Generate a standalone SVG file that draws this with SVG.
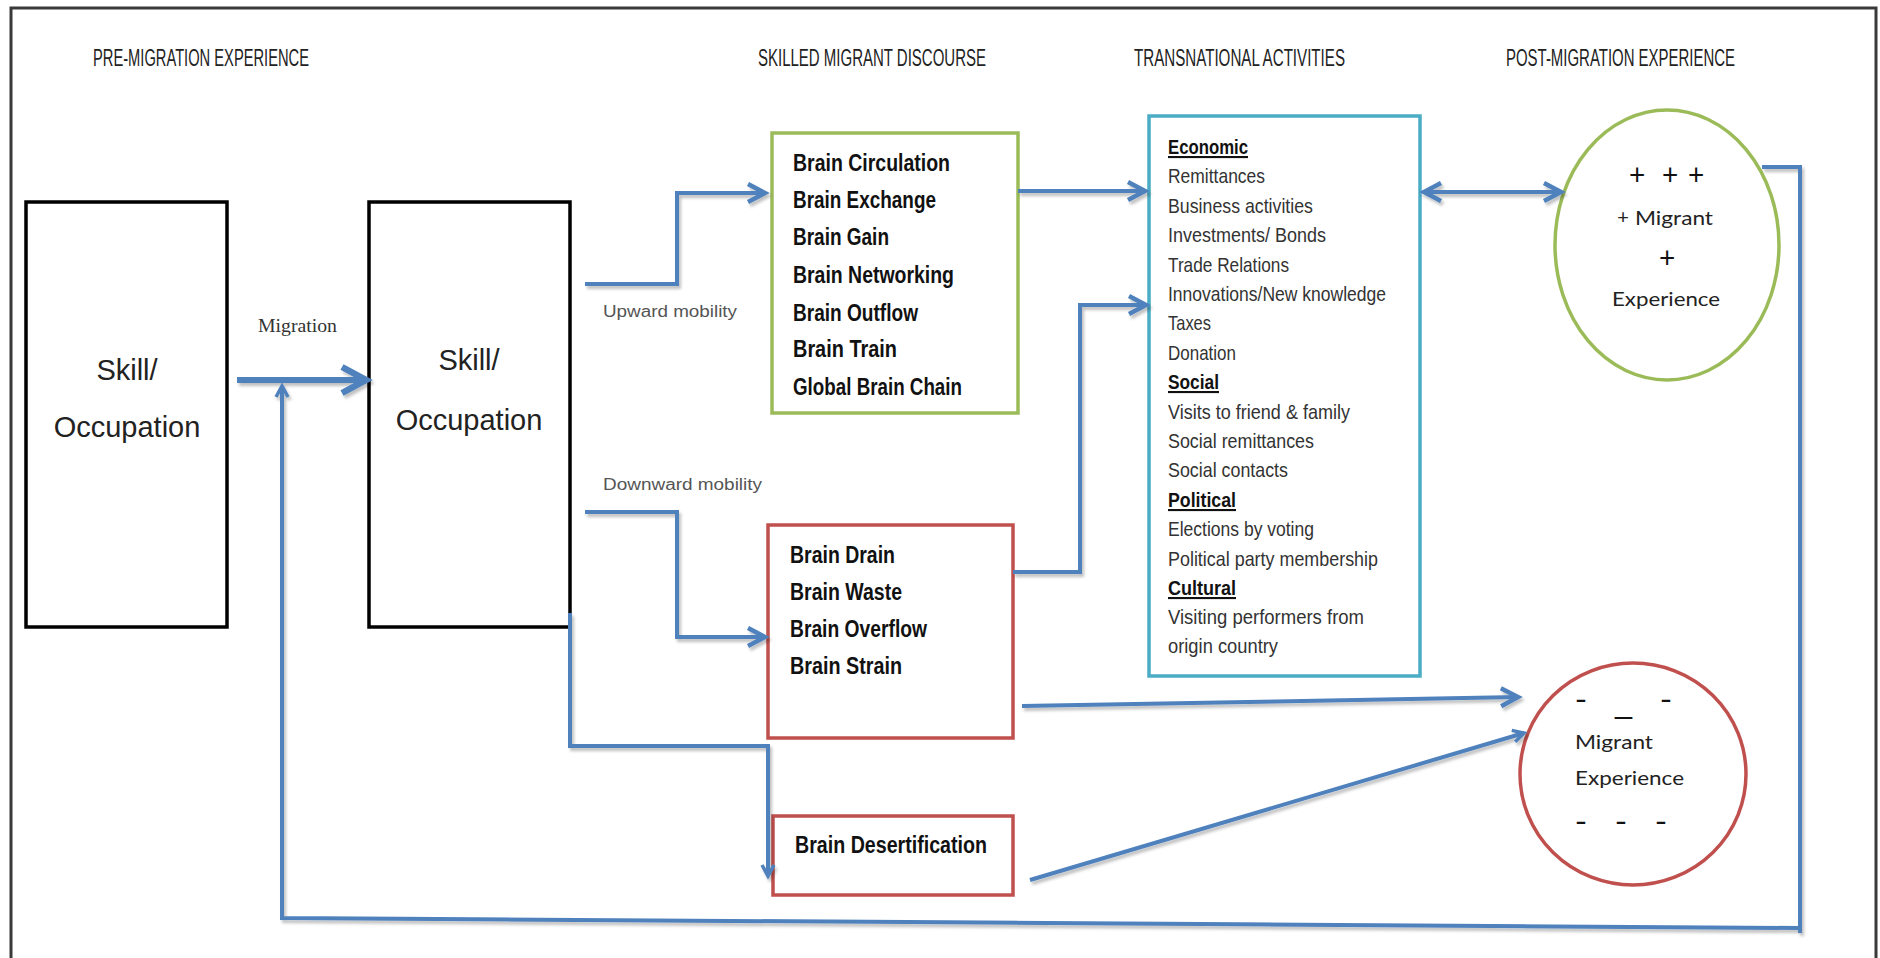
<svg xmlns="http://www.w3.org/2000/svg" width="1880" height="958" viewBox="0 0 1880 958">
<defs>
<filter id="sh" x="-5%" y="-5%" width="110%" height="110%">
<feDropShadow dx="2" dy="3" stdDeviation="1.5" flood-color="#000" flood-opacity="0.25"/>
</filter>
<marker id="arr" markerUnits="userSpaceOnUse" markerWidth="28" markerHeight="28" refX="21" refY="12" orient="auto-start-reverse">
<path d="M4,3 L21,12 L4,21" fill="none" stroke="#4F81BD" stroke-width="4.5" stroke-linejoin="miter"/>
</marker>
<marker id="arrBig" markerUnits="userSpaceOnUse" markerWidth="36" markerHeight="36" refX="29" refY="16" orient="auto">
<path d="M5,3 L29,16 L5,29" fill="none" stroke="#4F81BD" stroke-width="6.5"/>
</marker>
<marker id="arrSmall" markerUnits="userSpaceOnUse" markerWidth="20" markerHeight="20" refX="14" refY="8" orient="auto">
<path d="M3,2 L14,8 L3,14" fill="none" stroke="#4F81BD" stroke-width="3.5"/>
</marker>
</defs>
<style>
.hdr{font-family:"Liberation Sans",Arial,sans-serif;font-size:23px;fill:#222;}
.big{font-family:"Liberation Sans",Arial,sans-serif;font-size:29px;fill:#222;text-anchor:middle;}
.brain{font-family:"Liberation Sans",Arial,sans-serif;font-size:23px;font-weight:bold;fill:#111;}
.ta{font-family:"Liberation Sans",Arial,sans-serif;font-size:21px;fill:#333;}
.tah{font-family:"Liberation Sans",Arial,sans-serif;font-size:21px;font-weight:bold;fill:#111;text-decoration:underline;}
.lbl{font-family:"Liberation Sans",Arial,sans-serif;font-size:16px;fill:#555;}
.ell{font-family:Lato,"Open Sans",sans-serif;font-size:20px;fill:#222;}
.dash{font-family:Lato,"Open Sans",sans-serif;font-size:24px;font-weight:bold;fill:#111;}
.plus{font-family:Lato,"Open Sans",sans-serif;font-size:28px;fill:#111;text-anchor:middle;}
.conn{fill:none;stroke:#4F81BD;stroke-width:4;}
</style>
<rect width="1880" height="958" fill="#fff"/>
<path d="M11,962 V8 H1876 V962" fill="none" stroke="#3a3a3a" stroke-width="3"/>

<g id="headers">
<text class="hdr" x="93" y="66" textLength="216" lengthAdjust="spacingAndGlyphs">PRE-MIGRATION EXPERIENCE</text>
<text class="hdr" x="758" y="66" textLength="228" lengthAdjust="spacingAndGlyphs">SKILLED MIGRANT DISCOURSE</text>
<text class="hdr" x="1134" y="66" textLength="211" lengthAdjust="spacingAndGlyphs">TRANSNATIONAL ACTIVITIES</text>
<text class="hdr" x="1506" y="66" textLength="229" lengthAdjust="spacingAndGlyphs">POST-MIGRATION EXPERIENCE</text>
</g>

<g id="pre-skill">
<rect x="26" y="202" width="201" height="425" fill="#fff" stroke="#000" stroke-width="3.5"/>
<text class="big" x="127" y="380">Skill/</text>
<text class="big" x="127" y="437">Occupation</text>
</g>

<g id="post-skill">
<rect x="369" y="202" width="201" height="425" fill="#fff" stroke="#000" stroke-width="3.5"/>
<text class="big" x="469" y="370">Skill/</text>
<text class="big" x="469" y="430">Occupation</text>
</g>

<g id="upward-discourse">
<rect x="772" y="133" width="246" height="280" fill="#fff" stroke="#9BBB59" stroke-width="3.5"/>
<text class="brain" x="793" y="171" textLength="157" lengthAdjust="spacingAndGlyphs">Brain Circulation</text>
<text class="brain" x="793" y="208" textLength="143" lengthAdjust="spacingAndGlyphs">Brain Exchange</text>
<text class="brain" x="793" y="245" textLength="96" lengthAdjust="spacingAndGlyphs">Brain Gain</text>
<text class="brain" x="793" y="283" textLength="161" lengthAdjust="spacingAndGlyphs">Brain Networking</text>
<text class="brain" x="793" y="321" textLength="125" lengthAdjust="spacingAndGlyphs">Brain Outflow</text>
<text class="brain" x="793" y="357" textLength="104" lengthAdjust="spacingAndGlyphs">Brain Train</text>
<text class="brain" x="793" y="395" textLength="169" lengthAdjust="spacingAndGlyphs">Global Brain Chain</text>
</g>

<g id="downward-discourse">
<rect x="768" y="525" width="245" height="213" fill="#fff" stroke="#C0504D" stroke-width="3.5"/>
<text class="brain" x="790" y="563" textLength="105" lengthAdjust="spacingAndGlyphs">Brain Drain</text>
<text class="brain" x="790" y="600" textLength="112" lengthAdjust="spacingAndGlyphs">Brain Waste</text>
<text class="brain" x="790" y="637" textLength="137" lengthAdjust="spacingAndGlyphs">Brain Overflow</text>
<text class="brain" x="790" y="674" textLength="112" lengthAdjust="spacingAndGlyphs">Brain Strain</text>
</g>

<g id="desertification">
<rect x="773" y="816" width="240" height="79" fill="#fff" stroke="#C0504D" stroke-width="3.5"/>
<text class="brain" x="795" y="853" textLength="192" lengthAdjust="spacingAndGlyphs">Brain Desertification</text>
</g>

<g id="transnational">
<rect x="1149" y="116" width="271" height="560" fill="#fff" stroke="#4BACC6" stroke-width="3.5"/>
<text class="tah" x="1168" y="154" textLength="80" lengthAdjust="spacingAndGlyphs">Economic</text>
<text class="ta" x="1168" y="183" textLength="97" lengthAdjust="spacingAndGlyphs">Remittances</text>
<text class="ta" x="1168" y="213" textLength="145" lengthAdjust="spacingAndGlyphs">Business activities</text>
<text class="ta" x="1168" y="242" textLength="158" lengthAdjust="spacingAndGlyphs">Investments/ Bonds</text>
<text class="ta" x="1168" y="272" textLength="121" lengthAdjust="spacingAndGlyphs">Trade Relations</text>
<text class="ta" x="1168" y="301" textLength="218" lengthAdjust="spacingAndGlyphs">Innovations/New knowledge</text>
<text class="ta" x="1168" y="330" textLength="43" lengthAdjust="spacingAndGlyphs">Taxes</text>
<text class="ta" x="1168" y="360" textLength="68" lengthAdjust="spacingAndGlyphs">Donation</text>
<text class="tah" x="1168" y="389" textLength="51" lengthAdjust="spacingAndGlyphs">Social</text>
<text class="ta" x="1168" y="419" textLength="182" lengthAdjust="spacingAndGlyphs">Visits to friend &amp; family</text>
<text class="ta" x="1168" y="448" textLength="146" lengthAdjust="spacingAndGlyphs">Social remittances</text>
<text class="ta" x="1168" y="477" textLength="120" lengthAdjust="spacingAndGlyphs">Social contacts</text>
<text class="tah" x="1168" y="507" textLength="68" lengthAdjust="spacingAndGlyphs">Political</text>
<text class="ta" x="1168" y="536" textLength="146" lengthAdjust="spacingAndGlyphs">Elections by voting</text>
<text class="ta" x="1168" y="566" textLength="210" lengthAdjust="spacingAndGlyphs">Political party membership</text>
<text class="tah" x="1168" y="595" textLength="68" lengthAdjust="spacingAndGlyphs">Cultural</text>
<text class="ta" x="1168" y="624" textLength="196" lengthAdjust="spacingAndGlyphs">Visiting performers from</text>
<text class="ta" x="1168" y="653" textLength="110" lengthAdjust="spacingAndGlyphs">origin country</text>
</g>

<g id="positive-experience">
<ellipse cx="1667" cy="245" rx="112" ry="135" fill="#fff" stroke="#9BBB59" stroke-width="3.5"/>
<text class="plus" x="1637" y="185">+</text>
<text class="plus" x="1670" y="185">+</text>
<text class="plus" x="1696" y="185">+</text>
<text class="ell" x="1623" y="224" font-size="15" text-anchor="middle">+</text>
<text class="ell" x="1635" y="225" textLength="78" lengthAdjust="spacingAndGlyphs">Migrant</text>
<text class="plus" x="1667" y="268">+</text>
<text class="ell" x="1612" y="306" textLength="108" lengthAdjust="spacingAndGlyphs">Experience</text>
</g>

<g id="negative-experience">
<ellipse cx="1633" cy="774" rx="113" ry="111" fill="#fff" stroke="#C0504D" stroke-width="3.5"/>
<text class="dash" x="1575" y="708" textLength="12" lengthAdjust="spacingAndGlyphs">–</text>
<text class="dash" x="1660" y="708" textLength="12" lengthAdjust="spacingAndGlyphs">–</text>
<text class="dash" x="1613" y="715" textLength="21" lengthAdjust="spacingAndGlyphs">_</text>
<text class="ell" x="1575" y="749" textLength="78" lengthAdjust="spacingAndGlyphs">Migrant</text>
<text class="ell" x="1575" y="785" textLength="109" lengthAdjust="spacingAndGlyphs">Experience</text>
<text class="dash" x="1575" y="830" textLength="12" lengthAdjust="spacingAndGlyphs">–</text>
<text class="dash" x="1615" y="830" textLength="12" lengthAdjust="spacingAndGlyphs">–</text>
<text class="dash" x="1655" y="830" textLength="12" lengthAdjust="spacingAndGlyphs">–</text>
</g>

<g id="connectors" filter="url(#sh)">
<path class="conn" d="M1762,167 H1800 V933 M1800,928 L282,918 V386" marker-end="url(#arrSmall)"/>
<path d="M237,380 H366" fill="none" stroke="#4F81BD" stroke-width="6" marker-end="url(#arrBig)"/>
<path class="conn" d="M585,284 H677 V193 H765" marker-end="url(#arr)"/>
<path class="conn" d="M585,512 H677 V637 H765" marker-end="url(#arr)"/>
<path class="conn" d="M570,613 V746 H768 V876" marker-end="url(#arrSmall)"/>
<path class="conn" d="M1018,191 H1145" marker-end="url(#arr)"/>
<path class="conn" d="M1013,572 H1080 V305 H1146" marker-end="url(#arr)"/>
<path class="conn" d="M1022,706 L1518,697" marker-end="url(#arr)"/>
<path class="conn" d="M1030,880 L1524,733" marker-end="url(#arrSmall)"/>
<path class="conn" d="M1424,192 H1561" marker-start="url(#arr)" marker-end="url(#arr)"/>
</g>

<g id="labels">
<text x="258" y="332" font-family="Liberation Serif, serif" font-size="18" fill="#333" textLength="79" lengthAdjust="spacingAndGlyphs">Migration</text>
<text class="lbl" x="603" y="317" textLength="134" lengthAdjust="spacingAndGlyphs">Upward mobility</text>
<text class="lbl" x="603" y="490" textLength="159" lengthAdjust="spacingAndGlyphs">Downward mobility</text>
</g>
</svg>
